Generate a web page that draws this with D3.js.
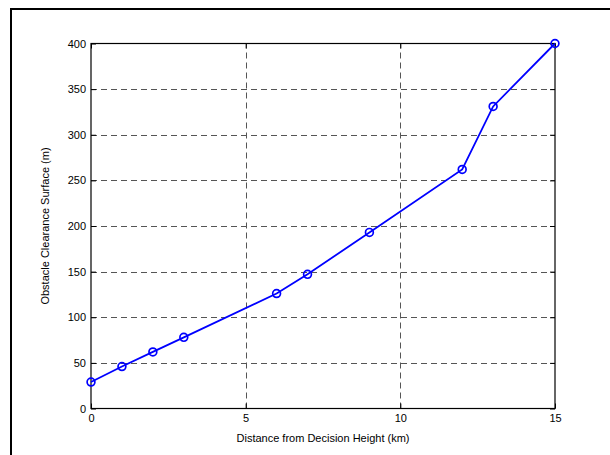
<!DOCTYPE html>
<html>
<head>
<meta charset="utf-8">
<script src="https://cdn.jsdelivr.net/npm/d3@7"></script>
<style>
  html, body { margin: 0; padding: 0; background: #fff; }
  svg { display: block; font-family: "Liberation Sans", Arial, Helvetica, sans-serif; }
</style>
</head>
<body>
<svg id="chart" width="610" height="455"></svg>
<script>
// Obstacle clearance surface height versus distance from decision height
const distanceKm = [0, 1, 2, 3, 6, 7, 9, 12, 13, 15];
const surfaceM   = [29, 46, 62, 78, 126, 147, 193, 262, 331, 400];
const xTicks = [0, 5, 10, 15];
const yTicks = [0, 50, 100, 150, 200, 250, 300, 350, 400];
const xLabel = "Distance from Decision Height (km)";
const yLabel = "Obstacle Clearance Surface (m)";

const svg = d3.select("#chart");
const plot = { left: 91, top: 43.5, right: 555, bottom: 408.5 };

// figure frame
svg.append("rect")
  .attr("x", 11).attr("y", 9)
  .attr("width", 640).attr("height", 480)
  .attr("fill", "none").attr("stroke", "#000").attr("stroke-width", 2);

const x = d3.scaleLinear().domain([0, 15]).range([plot.left, plot.right]);
const y = d3.scaleLinear().domain([0, 400]).range([plot.bottom, plot.top]);

// dashed grid
const grid = svg.append("g").attr("stroke", "#555").attr("stroke-width", 1)
  .attr("stroke-dasharray", "6,4").attr("fill", "none");
grid.selectAll("line.gx").data(xTicks.filter(d => d > 0 && d < 15)).join("line")
  .attr("x1", d => Math.round(x(d)) + 0.5).attr("x2", d => Math.round(x(d)) + 0.5)
  .attr("y1", plot.bottom).attr("y2", plot.top);
grid.selectAll("line.gy").data(yTicks.filter(d => d > 0 && d < 400)).join("line")
  .attr("y1", d => Math.round(y(d)) + 0.5).attr("y2", d => Math.round(y(d)) + 0.5)
  .attr("x1", plot.left).attr("x2", plot.right);

// axes with inward ticks on all four sides
const tickLen = 5;
const axisStyle = g => {
  g.select(".domain").remove();
  g.selectAll(".tick line").attr("stroke", "#000");
  g.selectAll(".tick text").attr("fill", "#000").attr("font-size", 11);
};
svg.append("g").attr("transform", `translate(0,${plot.bottom})`)
  .call(d3.axisBottom(x).tickValues(xTicks).tickSize(-tickLen).tickPadding(6).tickFormat(d3.format("d")))
  .call(axisStyle);
svg.append("g").attr("transform", `translate(0,${plot.top})`)
  .call(d3.axisTop(x).tickValues(xTicks).tickSize(-tickLen).tickFormat(""))
  .call(axisStyle);
svg.append("g").attr("transform", `translate(${plot.left},0)`)
  .call(d3.axisLeft(y).tickValues(yTicks).tickSize(-tickLen).tickPadding(5).tickFormat(d3.format("d")))
  .call(axisStyle);
svg.append("g").attr("transform", `translate(${plot.right},0)`)
  .call(d3.axisRight(y).tickValues(yTicks).tickSize(-tickLen).tickFormat(""))
  .call(axisStyle);

// axes box
svg.append("rect")
  .attr("x", plot.left).attr("y", plot.top)
  .attr("width", plot.right - plot.left).attr("height", plot.bottom - plot.top)
  .attr("fill", "none").attr("stroke", "#000").attr("stroke-width", 1.2);

// data line with circle markers
const pts = distanceKm.map((d, i) => [d, surfaceM[i]]);
svg.append("path")
  .datum(pts)
  .attr("fill", "none").attr("stroke", "#0000ff").attr("stroke-width", 1.8)
  .attr("d", d3.line().x(d => x(d[0])).y(d => y(d[1])));
svg.append("g").selectAll("circle").data(pts).join("circle")
  .attr("cx", d => x(d[0])).attr("cy", d => y(d[1])).attr("r", 3.9)
  .attr("fill", "none").attr("stroke", "#0000ff").attr("stroke-width", 1.7);

// axis titles
svg.append("text")
  .attr("x", (plot.left + plot.right) / 2).attr("y", 442)
  .attr("text-anchor", "middle").attr("font-size", 11).text(xLabel);
svg.append("text")
  .attr("transform", `translate(49,${(plot.top + plot.bottom) / 2}) rotate(-90)`)
  .attr("text-anchor", "middle").attr("font-size", 11).text(yLabel);
</script>
</body>
</html>
